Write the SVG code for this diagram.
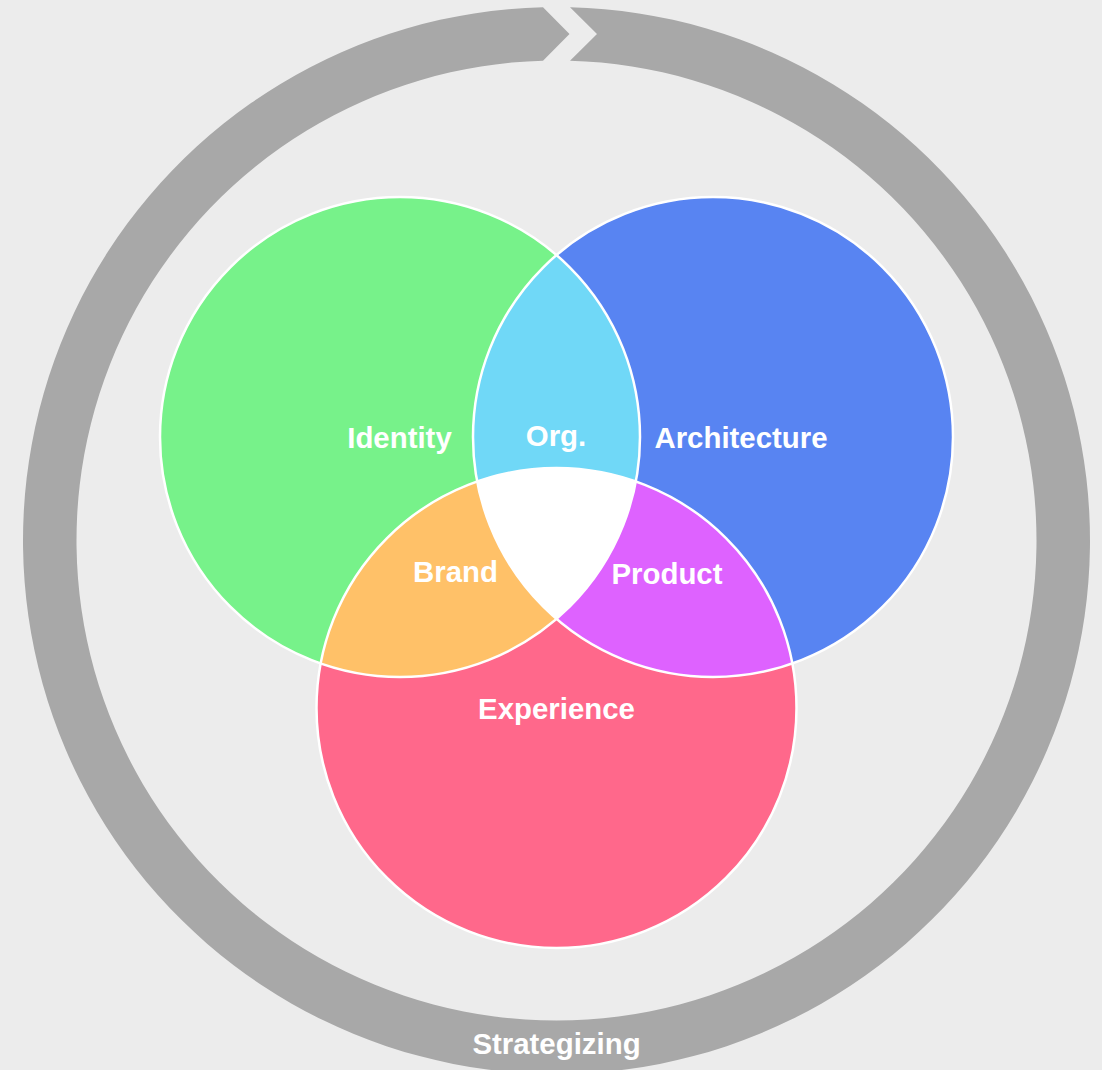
<svg xmlns="http://www.w3.org/2000/svg" width="1102" height="1070" viewBox="0 0 1102 1070">
  <style>
    .lbl { font-family: "Liberation Sans", Arial, sans-serif; font-weight: bold; font-size: 29.4px; fill: #ffffff; text-anchor: middle; }
    .outline { fill: none; stroke: #ffffff; stroke-width: 2.5; }
  </style>
  <defs>
    <clipPath id="clipG"><circle cx="400" cy="437" r="240"/></clipPath>
    <clipPath id="clipB"><circle cx="713" cy="437" r="240"/></clipPath>
    <clipPath id="clipP"><circle cx="556.5" cy="708" r="240"/></clipPath>
  </defs>
  <rect width="1102" height="1070" fill="#ececec"/>
  <g id="cycle">
    <path d="M 570 7.17 A 533.5 533.5 0 1 1 543 7.17 L 569.5 33.9 L 543 60.69 A 480 480 0 1 0 570 60.69 L 597 33.9 Z" fill="#a8a8a8"/>
    <text class="lbl" x="556.5" y="1053.5">Strategizing</text>
  </g>
  <g id="identity">
    <circle cx="400" cy="437" r="240" fill="#77f28a"/>
  </g>
  <g id="architecture">
    <circle cx="713" cy="437" r="240" fill="#5884f2"/>
  </g>
  <g id="experience">
    <circle cx="556.5" cy="708" r="240" fill="#ff688b"/>
  </g>
  <g id="org">
    <circle cx="713" cy="437" r="240" fill="#70d8f7" clip-path="url(#clipG)"/>
  </g>
  <g id="brand">
    <circle cx="556.5" cy="708" r="240" fill="#ffc168" clip-path="url(#clipG)"/>
  </g>
  <g id="product">
    <circle cx="556.5" cy="708" r="240" fill="#de62ff" clip-path="url(#clipB)"/>
  </g>
  <g id="core" clip-path="url(#clipG)">
    <circle cx="556.5" cy="708" r="240" fill="#ffffff" clip-path="url(#clipB)"/>
  </g>
  <g id="outlines">
    <circle class="outline" cx="400" cy="437" r="240"/>
    <circle class="outline" cx="713" cy="437" r="240"/>
    <circle class="outline" cx="556.5" cy="708" r="240"/>
  </g>
  <g id="labels">
    <text class="lbl" x="399.5" y="447.5">Identity</text>
    <text class="lbl" x="556" y="445.5">Org.</text>
    <text class="lbl" x="741" y="447.5">Architecture</text>
    <text class="lbl" x="455.5" y="581.5">Brand</text>
    <text class="lbl" x="667" y="583.5">Product</text>
    <text class="lbl" x="556.5" y="718.5">Experience</text>
  </g>
</svg>
